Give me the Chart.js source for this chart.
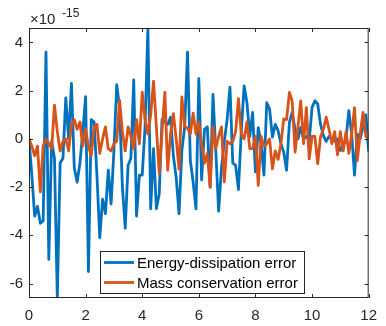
<!DOCTYPE html>
<html lang="en">
<head>
<meta charset="UTF-8">
<title>Error plot</title>
<script src="https://cdn.jsdelivr.net/npm/chart.js@4.4.1/dist/chart.umd.min.js"></script>
<style>
  html, body { margin: 0; padding: 0; background: #fff; }
  #wrap { width: 386px; height: 326px; }
</style>
</head>
<body>
<div id="wrap"><canvas id="myChart" width="386" height="326"></canvas></div>
<script>
// time samples
const times = [0,0.1,0.2,0.3,0.4,0.5,0.6,0.7,0.8,0.9,1,1.1,1.2,1.3,1.4,1.5,1.6,1.7,1.8,1.9,
  2,2.1,2.2,2.3,2.4,2.5,2.6,2.7,2.8,2.9,3,3.1,3.2,3.3,3.4,3.5,3.6,3.7,3.8,3.9,
  4,4.1,4.2,4.3,4.4,4.5,4.6,4.7,4.8,4.9,5,5.1,5.2,5.3,5.4,5.5,5.6,5.7,5.8,5.9,
  6,6.1,6.2,6.3,6.4,6.5,6.6,6.7,6.8,6.9,7,7.1,7.2,7.3,7.4,7.5,7.6,7.7,7.8,7.9,
  8,8.1,8.2,8.3,8.4,8.5,8.6,8.7,8.8,8.9,9,9.1,9.2,9.3,9.4,9.5,9.6,9.7,9.8,9.9,
  10,10.1,10.2,10.3,10.4,10.5,10.6,10.7,10.8,10.9,11,11.1,11.2,11.3,11.4,11.5,11.6,11.7,11.8,11.9,12];

// values in units of 1e-15
const energyErr = [0,-1.5,-3.2,-2.8,-3.5,-3.4,3.6,-5.0,-0.1,-0.8,
  -6.6,-1.0,-0.8,1.7,0.0,2.3,-1.2,-1.8,-1.0,0.3,
  1.75,-5.5,0.8,0.7,-1.5,-4.1,-2.5,-3.1,-1.3,-2.7,
  -0.5,2.25,1.3,-2.0,-3.7,-1.1,-0.8,2.45,-3.2,-1.5,
  -1.5,0.5,4.6,-2.9,-0.4,-2.9,-2.3,0.8,0.7,0.6,
  0.9,-0.7,-1.6,-3.1,-0.5,0.5,3.6,-0.9,-1.8,-2.9,
  2.5,-1.7,0.4,0.5,-2.0,1.85,-0.5,-3.0,-1.2,-0.1,
  0.8,2.15,-1.0,-1.1,-2.1,0.3,2.2,1.5,0.1,1.1,
  -1.37,0.47,-0.2,-1.5,1.5,1.24,0.07,0.6,0.34,-0.2,
  -0.55,-1.3,0.68,1.1,0.4,0.0,0.48,0.0,0.1,-0.07,
  1.3,1.58,1.45,0.6,0.14,-0.1,0.1,0.0,-0.1,0.0,
  -0.48,-0.3,0.0,1.17,0.2,-1.5,0.2,0.0,0.5,1.0,-0.5];

const massErr = [0,-0.3,-0.7,-0.3,-2.2,-0.3,0.0,-0.2,-0.4,1.4,
  0.3,-0.5,-0.1,0.0,-0.5,0.6,0.8,0.4,0.7,-0.3,
  0.4,-0.3,-0.7,0.5,0.6,-0.6,0.0,0.5,-0.4,-0.5,
  -0.2,-0.1,1.6,0.3,-0.5,0.5,0.1,-0.4,0.8,-0.2,
  1.94,0.8,0.2,1.0,2.4,0.5,-1.43,0.3,1.94,-1.3,
  0.2,1.05,0.0,-1.25,1.74,0.52,0.45,0.2,1.07,0.2,
  0.7,-0.2,-1.0,-0.6,-2.0,0.5,-0.4,0.1,0.5,-1.78,
  -0.1,-0.2,-0.1,0.3,1.67,0.2,0.0,0.7,-0.4,-0.4,
  0.1,-1.93,0.1,-0.3,-0.2,0.0,-1.24,-0.5,-0.85,-0.2,
  0.83,0.8,1.93,1.55,-0.55,0.5,1.58,-0.2,1.3,-0.83,
  0.1,0.1,-1.03,0.1,0.4,0.9,0.4,-0.2,0.3,-0.66,
  0.3,-0.5,0.3,-0.6,0.2,1.3,-0.9,0.2,1.1,0.1,0.26];

const xTicks = [0, 2, 4, 6, 8, 10, 12];
const yTicks = [-6, -4, -2, 0, 2, 4];
const seriesNames = ['Energy-dissipation error', 'Mass conservation error'];
const seriesColors = ['#0072BD', '#D95319'];

const FONT = '"Liberation Sans", Arial, sans-serif';
const AXIS = '#262626';

function pts(arr) {
  return arr.map((v, i) => ({ x: times[i], y: v }));
}

// box, inward ticks, exponent, legend
const matlabAxes = {
  id: 'matlabAxes',
  afterDatasetsDraw(chart) {
    const ctx = chart.ctx;
    const a = chart.chartArea;
    const xs = chart.scales.x, ys = chart.scales.y;
    ctx.save();
    ctx.strokeStyle = AXIS;
    ctx.lineWidth = 1;
    ctx.strokeRect(a.left + 0.5, a.top + 0.5, a.right - a.left - 1, a.bottom - a.top - 1);
    ctx.beginPath();
    xTicks.forEach(v => {
      const px = Math.round(xs.getPixelForValue(v)) + 0.5;
      ctx.moveTo(px, a.bottom); ctx.lineTo(px, a.bottom - 4);
      ctx.moveTo(px, a.top); ctx.lineTo(px, a.top + 4);
    });
    yTicks.forEach(v => {
      const py = Math.round(ys.getPixelForValue(v)) + 0.5;
      ctx.moveTo(a.left, py); ctx.lineTo(a.left + 4, py);
      ctx.moveTo(a.right, py); ctx.lineTo(a.right - 4, py);
    });
    ctx.stroke();

    // x10^-15
    ctx.fillStyle = AXIS;
    ctx.textBaseline = 'alphabetic';
    ctx.textAlign = 'left';
    ctx.font = '15px ' + FONT;
    ctx.fillText('\u00d710', 30, 24);
    ctx.font = '12px ' + FONT;
    ctx.fillText('-15', 62, 17);

    // legend
    const lx = 100, ly = 251, lw = 204, lh = 42;
    ctx.fillStyle = '#fff';
    ctx.fillRect(lx, ly, lw, lh);
    ctx.strokeStyle = AXIS;
    ctx.lineWidth = 1;
    ctx.strokeRect(lx + 0.5, ly + 0.5, lw, lh);
    ctx.font = '15px ' + FONT;
    ctx.textBaseline = 'middle';
    seriesNames.forEach((name, i) => {
      const yy = ly + 11.5 + i * 20;
      ctx.strokeStyle = seriesColors[i];
      ctx.lineWidth = 2.8;
      ctx.beginPath();
      ctx.moveTo(lx + 4, yy); ctx.lineTo(lx + 34, yy);
      ctx.stroke();
      ctx.fillStyle = '#000';
      ctx.fillText(name, lx + 37, yy + 1);
    });
    ctx.restore();
  }
};

new Chart(document.getElementById('myChart').getContext('2d'), {
  type: 'line',
  data: {
    datasets: [
      { label: seriesNames[0], data: pts(energyErr), borderColor: seriesColors[0], borderWidth: 2.8,
        borderJoinStyle: 'round', borderCapStyle: 'round', pointRadius: 0, tension: 0, order: 1 },
      { label: seriesNames[1], data: pts(massErr), borderColor: seriesColors[1], borderWidth: 2.8,
        borderJoinStyle: 'round', borderCapStyle: 'round', pointRadius: 0, tension: 0, order: 0 }
    ]
  },
  options: {
    responsive: false,
    animation: false,
    events: [],
    layout: { padding: { top: 28, right: 12, left: 0, bottom: 0 } },
    plugins: { legend: { display: false }, tooltip: { enabled: false } },
    scales: {
      x: {
        type: 'linear', min: 0, max: 12,
        afterBuildTicks: s => { s.ticks = xTicks.map(v => ({ value: v })); },
        afterFit: s => { s.height = 28; },
        grid: { display: false, drawTicks: false },
        border: { display: false },
        ticks: { color: AXIS, font: { family: FONT, size: 15 }, padding: 9, maxRotation: 0 }
      },
      y: {
        type: 'linear', min: -6.6, max: 4.6,
        afterBuildTicks: s => { s.ticks = yTicks.map(v => ({ value: v })); },
        afterFit: s => { s.width = 29; },
        grid: { display: false, drawTicks: false },
        border: { display: false },
        ticks: { color: AXIS, font: { family: FONT, size: 15 }, padding: 6 }
      }
    }
  },
  plugins: [matlabAxes]
});
</script>
</body>
</html>
